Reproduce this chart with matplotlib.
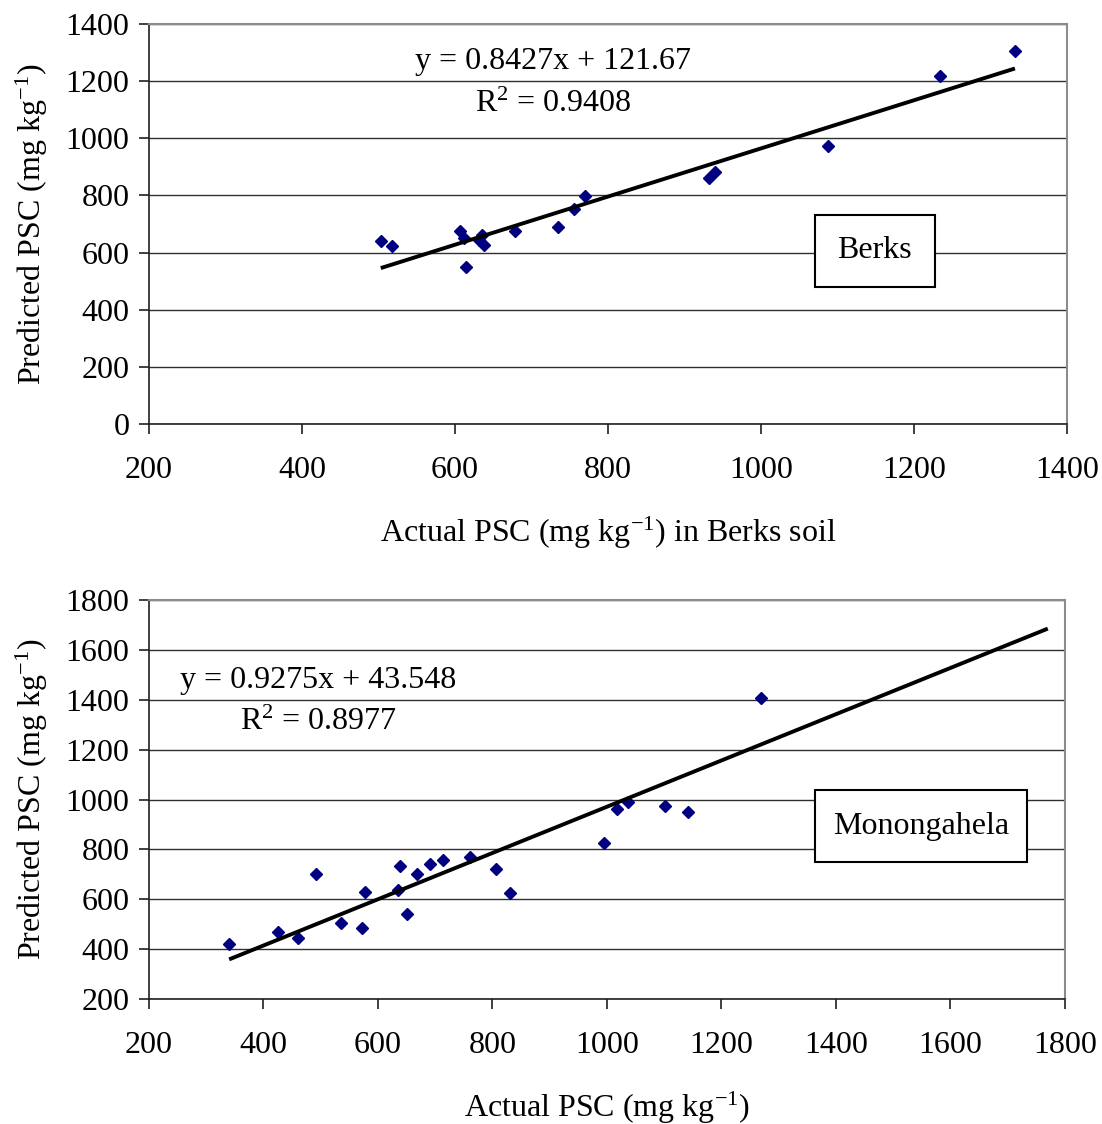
import numpy as np
import matplotlib
matplotlib.use("Agg")
import matplotlib.pyplot as plt
from matplotlib.patches import Rectangle

plt.rcParams["font.family"] = ["Liberation Serif", "DejaVu Serif"]
plt.rcParams["mathtext.fontset"] = "custom"
plt.rcParams["mathtext.rm"] = "Liberation Serif"
plt.rcParams["mathtext.it"] = "Liberation Serif:italic"

# Berks soil: actual vs predicted PSC (mg/kg)
berks_actual = [503, 518, 607, 612, 615, 631, 635, 638, 678, 735, 755, 770,
                932, 940, 1088, 1234, 1332]
berks_pred = [640, 622, 675, 650, 550, 645, 660, 628, 675, 688, 752, 798,
              862, 882, 973, 1218, 1305]
berks_fit = (0.8427, 121.67)
berks_r2 = 0.9408

# Monongahela soil
mono_actual = [340, 426, 461, 492, 536, 572, 577, 635, 638, 650, 668, 691,
               714, 760, 807, 831, 994, 1018, 1036, 1101, 1142, 1269]
mono_pred = [420, 470, 445, 700, 505, 483, 630, 637, 733, 541, 700, 740,
             756, 768, 720, 624, 824, 962, 988, 974, 950, 1407]
mono_fit = (0.9275, 43.548)
mono_r2 = 0.8977
mono_fit_xmax = 1770

FS = 23
UNIT = r"(mg kg$^{\mathregular{-1}}$)"


def panel(ax, xs, ys, fit, r2, xlim, ylim, step, xlabel, name, box,
          eq_xy, xlab_y, xmax=None):
    ax.set_xlim(*xlim)
    ax.set_ylim(*ylim)
    ax.set_xticks(np.arange(xlim[0], xlim[1] + 1, 200))
    ax.set_yticks(np.arange(ylim[0], ylim[1] + 1, step))
    ax.yaxis.grid(True, color="#303030", lw=1.0)
    ax.set_axisbelow(True)
    for s in ("top", "right"):
        ax.spines[s].set_color("#8c8c8c")
        ax.spines[s].set_linewidth(1.5)
    for s in ("left", "bottom"):
        ax.spines[s].set_color("#202020")
        ax.spines[s].set_linewidth(1.2)
    ax.tick_params(direction="out", length=7, width=1.2, labelsize=FS,
                   color="#202020")
    ax.tick_params(axis="x", pad=16)
    ax.tick_params(axis="y", pad=7)

    ax.plot(xs, ys, ls="none", marker="D", ms=6.5, color="#000080", zorder=3)
    a, b = fit
    x0 = min(xs)
    x1 = max(xs) if xmax is None else xmax
    ax.plot([x0, x1], [a * x0 + b, a * x1 + b], color="black", lw=2.8,
            zorder=4, solid_capstyle="butt")

    ax.text(eq_xy[0], eq_xy[1], f"y = {a}x + {b}", transform=ax.transAxes,
            ha="center", va="center", fontsize=FS)
    ax.text(eq_xy[0], eq_xy[1] - 0.107, f"R$^{{\\mathregular{{2}}}}$ = {r2}",
            transform=ax.transAxes, ha="center", va="center", fontsize=FS)

    l, bt, r, t = box
    ax.add_patch(Rectangle((l, bt), r - l, t - bt, transform=ax.transAxes,
                           fc="white", ec="black", lw=1.5, zorder=5))
    ax.text((l + r) / 2, (bt + t) / 2, name, transform=ax.transAxes,
            ha="center", va="center", fontsize=FS, zorder=6)

    ax.set_xlabel(xlabel, fontsize=FS)
    ax.set_ylabel("Predicted PSC " + UNIT, fontsize=FS)
    ax.xaxis.set_label_coords(0.5, xlab_y)
    ax.yaxis.set_label_coords(-0.108, 0.5)


fig = plt.figure(figsize=(11.02, 11.24), dpi=100)
ax1 = fig.add_axes([0.1352, 0.6228, 0.8330, 0.3559])
ax2 = fig.add_axes([0.1352, 0.1112, 0.8312, 0.3550])

panel(ax1, berks_actual, berks_pred, berks_fit, berks_r2,
      (200, 1400), (0, 1400), 200,
      "Actual PSC " + UNIT + " in Berks soil", "Berks",
      (0.7255, 0.3425, 0.856, 0.5225), (0.44, 0.905), -0.228)

panel(ax2, mono_actual, mono_pred, mono_fit, mono_r2,
      (200, 1800), (200, 1800), 200,
      "Actual PSC " + UNIT, "Monongahela",
      (0.727, 0.343, 0.9585, 0.524), (0.185, 0.799), -0.228,
      xmax=mono_fit_xmax)

fig.savefig("out.png", dpi=100)
